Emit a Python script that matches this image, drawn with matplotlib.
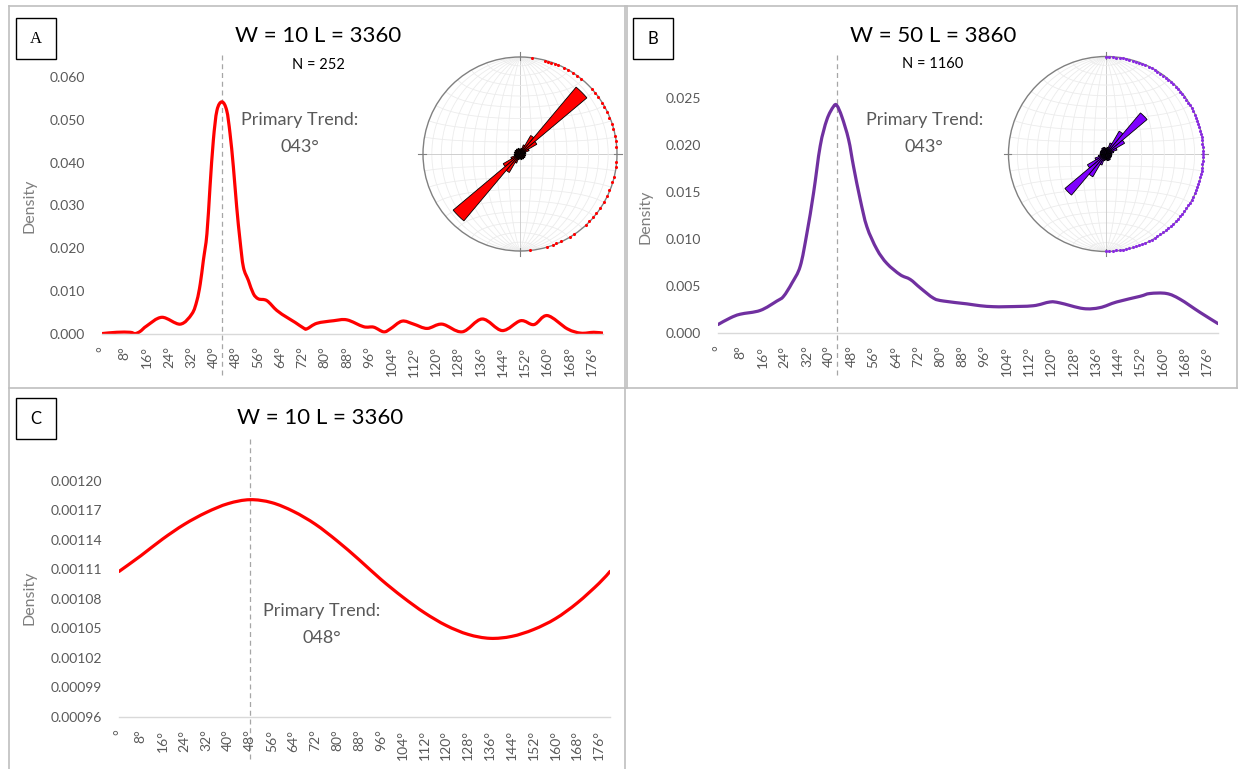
import numpy as np
import matplotlib
matplotlib.use("Agg")
import matplotlib.pyplot as plt
from matplotlib.path import Path
from matplotlib.patches import PathPatch, Rectangle, Wedge, Circle
from matplotlib.lines import Line2D

plt.rcParams['font.family'] = ['Lato', 'DejaVu Sans']

# ---------------- data ----------------
a_deg = [0, 5.3, 10.1, 11.9, 13.7, 16.1, 21.5, 28.1, 32.3, 34.1, 35.3, 36.4, 37.7, 38.8,
         40.0, 41.3, 43.1, 44.8, 46.0, 47.2, 48.4, 49.6, 50.8, 52.6, 54.4, 56.2, 59.2,
         62.8, 66.4, 69.4, 72.4, 73.6, 77.2, 83.2, 88.0, 94.0, 97.6, 101.2, 103.6, 107.8,
         112.0, 116.8, 122.2, 129.4, 136.6, 143.8, 150.4, 155.2, 160.0, 167.2, 172.0,
         176.7, 180.0]
a_density = [0.0001, 0.0004, 0.0004, 0.0001, 0.0006, 0.0019, 0.0039, 0.0023, 0.0047,
             0.0078, 0.0117, 0.0171, 0.0234, 0.0343, 0.0452, 0.0522, 0.0542, 0.0522,
             0.0468, 0.0390, 0.0296, 0.0218, 0.0156, 0.0125, 0.0094, 0.0082, 0.0078,
             0.0055, 0.0039, 0.0027, 0.0014, 0.0012, 0.0025, 0.0031, 0.0033, 0.0017,
             0.0016, 0.0005, 0.0012, 0.0030, 0.0023, 0.0013, 0.0023, 0.0005, 0.0035,
             0.0008, 0.0031, 0.0022, 0.0043, 0.0012, 0.0002, 0.0004, 0.0002]

b_deg = [0, 4.4, 8.0, 15.2, 21.2, 23.6, 26.6, 29.6, 32.0, 34.4, 36.8, 39.2, 41.6, 42.8,
         44.6, 47.0, 48.8, 51.2, 53.6, 57.2, 60.8, 65.6, 69.2, 72.8, 77.6, 81.2, 89.6,
         94.4, 99.1, 104.0, 113.5, 119.5, 123.1, 131.5, 137.5, 143.5, 151.9, 155.5,
         161.5, 166.3, 173.5, 180.0]
b_density = [0.0009, 0.0016, 0.0020, 0.0024, 0.0034, 0.0039, 0.0053, 0.0071, 0.0106,
             0.0149, 0.0199, 0.0227, 0.0241, 0.0242, 0.0230, 0.0206, 0.0177, 0.0142,
             0.0113, 0.0089, 0.0074, 0.0062, 0.0057, 0.0048, 0.0037, 0.0034, 0.0031,
             0.0029, 0.0028, 0.0028, 0.0029, 0.0033, 0.0032, 0.0026, 0.0027, 0.0033,
             0.0039, 0.0042, 0.0042, 0.0036, 0.0022, 0.0010]

c_deg = [0, 8, 16, 24, 32, 40, 48, 56, 64, 72, 80, 88, 96, 104, 112, 120, 128, 136,
         144, 152, 160, 168, 176, 180]
c_density = [0.001108, 0.001124, 0.001141, 0.001156, 0.001168, 0.001177, 0.001181,
             0.001178, 0.001169, 0.001156, 0.001139, 0.001120, 0.001100, 0.001082,
             0.001066, 0.001053, 0.001044, 0.001040, 0.001042, 0.001049, 0.001060,
             0.001076, 0.001096, 0.001108]

x_ticks = [0, 8, 16, 24, 32, 40, 48, 56, 64, 72, 80, 88, 96, 104, 112, 120, 128, 136,
           144, 152, 160, 168, 176]
a_yticks = [0.000, 0.010, 0.020, 0.030, 0.040, 0.050, 0.060]
b_yticks = [0.000, 0.005, 0.010, 0.015, 0.020, 0.025]
c_yticks = [0.00096, 0.00099, 0.00102, 0.00105, 0.00108, 0.00111, 0.00114, 0.00117, 0.00120]

trend_a, trend_b, trend_c = 43, 43, 48

# rose petals, 10 degree bins 0..170 (mirrored to 180..350)
rose_bins = [0, 10, 20, 30, 40, 50, 60, 70, 80, 90, 100, 110, 120, 130, 140, 150, 160, 170]
a_rose = [0.05, 0.06, 0.10, 0.22, 0.90, 0.20, 0.10, 0.06, 0.06, 0.05, 0.06, 0.05, 0.06,
          0.05, 0.06, 0.05, 0.06, 0.05]
b_rose = [0.06, 0.07, 0.12, 0.27, 0.55, 0.22, 0.12, 0.08, 0.06, 0.06, 0.06, 0.06, 0.06,
          0.06, 0.07, 0.07, 0.07, 0.06]

# trends plotted on the net rim
a_rim = [7, 15, 17, 19, 21, 23, 27, 30, 33, 36, 39, 48, 51, 54, 58, 61, 64, 68, 72, 75,
         79, 82, 86, 95, 98, 104, 107, 112, 116, 120, 124, 128, 131, 134, 137, 146, 149,
         155, 158, 160, 164, 174]
b_rim = [0, 2, 4, 6, 8, 10, 12, 14, 16, 18, 20, 22, 24, 26, 28, 30, 32, 34, 36, 38, 40,
         42, 44, 46, 48, 50, 52, 54, 56, 58, 60, 62, 64, 66, 68, 70, 72, 74, 76, 78, 80,
         82, 84, 86, 88, 90, 92, 94, 96, 98, 100, 102, 104, 106, 108, 110, 112, 114, 116,
         118, 120, 122, 124, 126, 128, 130, 132, 134, 136, 138, 140, 142, 144, 146, 148,
         150, 152, 154, 156, 158, 160, 162, 164, 166, 168, 170, 172, 174, 176, 178, 180]

W, H = 1238, 769
fig = plt.figure(figsize=(W / 100, H / 100), dpi=100)
fig.patch.set_facecolor('white')


def fx(x):
    return x / W


def fy(y):
    return 1 - y / H


def px_axes(x0, y0, x1, y1):
    return fig.add_axes([fx(x0), fy(y1), (x1 - x0) / W, (y1 - y0) / H])


def smooth_path(x, y):
    # Bezier through the points, like a spreadsheet "smoothed line"
    p = np.column_stack([x, y]).astype(float)
    n = len(p)
    verts = [p[0]]
    codes = [Path.MOVETO]
    for i in range(n - 1):
        p0 = p[i - 1] if i > 0 else p[i]
        p3 = p[i + 2] if i + 2 < n else p[i + 1]
        verts += [p[i] + (p[i + 1] - p0) / 6, p[i + 1] - (p3 - p[i]) / 6, p[i + 1]]
        codes += [Path.CURVE4] * 3
    return Path(verts, codes)


def density_panel(box, deg, dens, color, yticks, fmt, trend, dash_ext):
    ax = px_axes(*box)
    ax.add_patch(PathPatch(smooth_path(deg, dens), fill=False, ec=color, lw=2.3,
                           capstyle='round', joinstyle='round'))
    ax.set_xlim(0, 180)
    ax.set_ylim(yticks[0], yticks[-1])
    ax.set_xticks(x_ticks)
    ax.set_xticklabels(['°' if t == 0 else f'{t}°' for t in x_ticks], rotation=90,
                       fontsize=10, color='#595959')
    ax.set_yticks(yticks)
    ax.set_yticklabels([fmt.format(v) for v in yticks], fontsize=10, color='#595959')
    ax.tick_params(axis='both', length=0)
    ax.tick_params(axis='y', pad=12)
    ax.tick_params(axis='x', pad=9)
    for s in ['top', 'right', 'left']:
        ax.spines[s].set_visible(False)
    ax.spines['bottom'].set_color('#d9d9d9')
    ax.spines['bottom'].set_linewidth(1)
    ax.axvline(trend, ymin=dash_ext[0], ymax=dash_ext[1], color='#a6a6a6', lw=0.9,
               ls=(0, (4, 3)), clip_on=False, zorder=0)
    ax.patch.set_alpha(0)
    return ax


def net_panel(cx, cy, r, petals, petal_color, rim, rim_color):
    pad = 1.12
    ax = px_axes(cx - pad * r, cy - pad * r, cx + pad * r, cy + pad * r)
    ax.set_xlim(-pad, pad)
    ax.set_ylim(-pad, pad)
    ax.set_aspect('equal')
    ax.axis('off')
    t = np.radians(np.linspace(-90, 90, 181))
    for g in range(-80, 90, 10):
        col = '#c8c8c8' if g == 0 else '#ececec'
        lam = np.radians(g)
        k = np.sqrt(1 / (1 + np.cos(t) * np.cos(lam)))
        ax.plot(k * np.cos(t) * np.sin(lam), k * np.sin(t), color=col, lw=0.6, zorder=1)
        phi = np.radians(g)
        k = np.sqrt(1 / (1 + np.cos(phi) * np.cos(t)))
        ax.plot(k * np.cos(phi) * np.sin(t), k * np.sin(phi) * np.ones_like(t),
                color=col, lw=0.6, zorder=1)
    ax.add_patch(Circle((0, 0), 1, fill=False, ec='#808080', lw=1.0, zorder=3))
    for a in [0, 90, 180, 270]:
        th = np.radians(90 - a)
        ax.plot([0.97 * np.cos(th), 1.05 * np.cos(th)], [0.97 * np.sin(th), 1.05 * np.sin(th)],
                color='#808080', lw=0.8, zorder=3)
    for b, L in zip(rose_bins, petals):
        for off in (0, 180):
            a0 = b + off
            ax.add_patch(Wedge((0, 0), L, 90 - (a0 + 10), 90 - a0, fc=petal_color,
                               ec='black', lw=0.6, zorder=4))
    th = np.radians(90 - np.array(rim, dtype=float))
    ax.scatter(0.995 * np.cos(th), 0.995 * np.sin(th), s=5, color=rim_color, lw=0, zorder=5)
    return ax


# ---------------- panels ----------------
density_panel((102, 77, 603, 334), a_deg, a_density, '#ff0000', a_yticks, '{:.3f}',
              trend_a, (-0.16, 1.093))
density_panel((718, 98, 1218, 333), b_deg, b_density, '#7030a0', b_yticks, '{:.3f}',
              trend_b, (-0.179, 1.19))
density_panel((119, 481, 610, 717), c_deg, c_density, '#ff0000', c_yticks, '{:.5f}',
              trend_c, (-0.18, 1.18))

net_panel(520, 154, 97, a_rose, '#ff0000', a_rim, '#ff0000')
net_panel(1106, 154, 97.5, b_rose, '#7f00ff', b_rim, '#8a2be2')

# ---------------- frames ----------------
frame_col = '#bfbfbf'
for (x0, y0, x1, y1) in [(9, 6, 1237, 6), (9, 388, 1237, 388), (9, 6, 9, 769),
                         (625, 6, 625, 769), (627, 6, 627, 388), (1237, 6, 1237, 388)]:
    fig.add_artist(Line2D([fx(x0), fx(x1)], [fy(y0), fy(y1)], color=frame_col, lw=1.2,
                          transform=fig.transFigure))

for (x0, y0, letter, fam) in [(16, 18, 'A', 'Liberation Serif'), (633, 18, 'B', 'Lato'),
                              (16, 398, 'C', 'Lato')]:
    fig.add_artist(Rectangle((fx(x0), fy(y0 + 41)), 40 / W, 41 / H, fill=False, ec='black',
                             lw=1.0, transform=fig.transFigure))
    fig.text(fx(x0 + 20), fy(y0 + 21), letter, ha='center', va='center', fontsize=12,
             family=fam, color='black')

# ---------------- texts ----------------
fig.text(fx(318), fy(36), 'W = 10 L = 3360', ha='center', va='center', fontsize=16)
fig.text(fx(318), fy(65), 'N = 252', ha='center', va='center', fontsize=10.5)
fig.text(fx(300), fy(120), 'Primary Trend:', ha='center', va='center', fontsize=13,
         color='#595959')
fig.text(fx(300), fy(147), '043°', ha='center', va='center', fontsize=13, color='#595959')

fig.text(fx(933), fy(36), 'W = 50 L = 3860', ha='center', va='center', fontsize=16)
fig.text(fx(933), fy(64), 'N = 1160', ha='center', va='center', fontsize=10.5)
fig.text(fx(925), fy(120), 'Primary Trend:', ha='center', va='center', fontsize=13,
         color='#595959')
fig.text(fx(924), fy(147), '043°', ha='center', va='center', fontsize=13, color='#595959')

fig.text(fx(320), fy(418), 'W = 10 L = 3360', ha='center', va='center', fontsize=16)
fig.text(fx(322), fy(611), 'Primary Trend:', ha='center', va='center', fontsize=13,
         color='#595959')
fig.text(fx(322), fy(638), '048°', ha='center', va='center', fontsize=13, color='#595959')

for (x, y) in [(30, 206), (645, 217), (30, 598)]:
    fig.text(fx(x), fy(y), 'Density', ha='center', va='center', rotation=90,
             fontsize=11.5, color='#7f7f7f')

fig.savefig('out.png', dpi=100, facecolor='white')
